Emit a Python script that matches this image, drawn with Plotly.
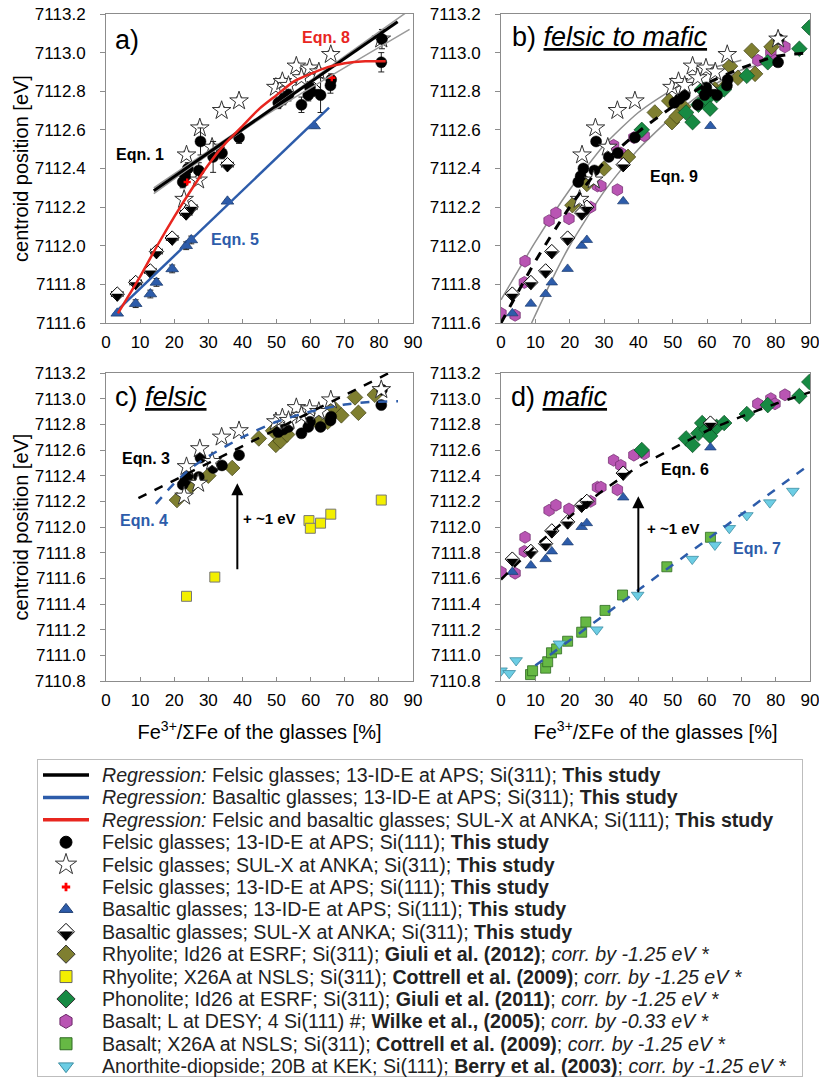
import plotly.graph_objects as go

FONT = "Liberation Sans, Arial, Helvetica, sans-serif"

# ---------------- data ----------------
# Felsic glasses; 13-ID-E at APS; Si(111) (black circles)
fel_aps_x = [22.5, 23.2, 24.0, 27.2, 27.7, 31.4, 34.0, 39.0, 50.5, 52.0, 53.5, 57.3, 59.3, 59.8, 62.9, 65.8, 66.0, 80.7, 80.9]
fel_aps_y = [7112.33, 7112.36, 7112.40, 7112.39, 7112.54, 7112.46, 7112.48, 7112.56, 7112.74, 7112.76, 7112.78,
             7112.73, 7112.78, 7112.82, 7112.78, 7112.83, 7112.86, 7112.95, 7113.07]
fel_aps_err = [0.03, 0.03, 0.03, 0.04, 0.07, 0.08, 0.03, 0.03, 0.03, 0.03, 0.03, 0.04, 0.03, 0.03, 0.09, 0.04, 0.03, 0.05, 0.05]

# Felsic glasses; SUL-X at ANKA; Si(311) (stars)
fel_anka_x = [22.9, 23.6, 27.0, 27.5, 31.1, 33.9, 39.0, 49.8, 51.7, 53.5, 55.8, 57.3, 59.7, 62.4, 65.9, 80.7]
fel_anka_y = [7112.24, 7112.47, 7112.34, 7112.61, 7112.51, 7112.70, 7112.75, 7112.82, 7112.85, 7112.83, 7112.93,
              7112.87, 7112.92, 7112.90, 7112.99, 7113.07]
fel_anka_errx = [1.0] * 16
fel_anka_erry = [0.02] * 16

# Felsic glasses; 13-ID-E at APS; Si(111) (red plus)
fel_red_x = [23.8, 66.2]
fel_red_y = [7112.33, 7112.87]

# Basaltic glasses; 13-ID-E at APS; Si(111) (blue triangles)
bas_aps_x = [3.3, 8.7, 13.0, 14.8, 19.4, 23.5, 25.0, 35.6, 61.0]
bas_aps_y = [7111.65, 7111.70, 7111.75, 7111.81, 7111.88, 7112.00, 7112.03, 7112.23, 7112.62]
bas_aps_err = [0.01, 0.02, 0.02, 0.02, 0.02, 0.02, 0.02, 0.01, 0.01]

# Basaltic glasses; SUL-X at ANKA; Si(311) (half-filled diamonds)
bas_anka_x = [3.3, 8.7, 13.0, 14.8, 19.4, 23.5, 25.0, 35.6, 61.0]
bas_anka_y = [7111.75, 7111.81, 7111.87, 7111.97, 7112.04, 7112.17, 7112.20, 7112.42, 7112.81]
bas_anka_errx = [1.7, 1.7, 1.7, 1.7, 1.7, 1.7, 1.7, 1.7, 1.7]

# Rhyolite; Id26 at ESRF; Giuli et al. (2012) (olive diamonds)
rhy_giuli_x = [20.8, 25.0, 30.0, 37.0, 44.8, 49.0, 49.8, 51.2, 53.1, 62.3, 65.0, 66.7, 69.0, 73.0, 74.0, 78.8]
rhy_giuli_y = [7112.21, 7112.32, 7112.40, 7112.46, 7112.69, 7112.75, 7112.64, 7112.67, 7112.72, 7112.81, 7112.82,
               7112.93, 7112.87, 7113.01, 7112.89, 7113.03]

# Rhyolite; X26A at NSLS; Cottrell et al. (2009) (yellow squares)
rhy_cott_x = [23.6, 31.9, 59.5, 59.9, 62.9, 65.9, 80.7]
rhy_cott_y = [7111.46, 7111.61, 7112.05, 7111.99, 7112.03, 7112.10, 7112.21]

# Phonolite; Id26 at ESRF; Giuli et al. (2011) (green diamonds)
pho_x = [41.0, 53.9, 55.8, 57.5, 58.6, 59.9, 60.9, 62.8, 65.0, 71.6, 77.7, 86.9, 89.8]
pho_y = [7112.60, 7112.69, 7112.64, 7112.73, 7112.81, 7112.76, 7112.71, 7112.78, 7112.81, 7112.88, 7112.95,
         7113.02, 7113.13]

# Basalt; L at DESY; Wilke et al. (2005) (magenta hexagons)
wil_x = [0.0, 4.1, 6.8, 7.0, 14.0, 16.0, 19.8, 26.1, 28.1, 29.1, 32.8, 34.9, 33.9, 38.7, 41.7, 74.8, 78.6, 79.8, 82.7]
wil_y = [7111.65, 7111.64, 7111.81, 7111.92, 7112.13, 7112.17, 7112.14, 7112.20, 7112.31, 7112.31, 7112.52, 7112.48,
         7112.29, 7112.56, 7112.57, 7112.96, 7113.00, 7112.96, 7113.03]

# Basalt; X26A at NSLS; Cottrell et al. (2009) (green squares)
bas_cott_x = [8.6, 9.2, 13.0, 13.6, 14.7, 16.2, 19.4, 23.5, 24.7, 30.3, 35.4, 48.3, 61.0]
bas_cott_y = [7110.85, 7110.88, 7110.90, 7110.95, 7111.02, 7111.05, 7111.11, 7111.18, 7111.26, 7111.35, 7111.47,
              7111.69, 7111.92]

# Anorthite-diopside; 20B at KEK; Berry et al. (2003) (cyan down-triangles)
berry_x = [0.0, 2.4, 4.4, 17.0, 27.9, 39.8, 55.7, 62.3, 66.5, 71.6, 78.3, 85.0]
berry_y = [7110.88, 7110.86, 7110.96, 7111.09, 7111.20, 7111.47, 7111.75, 7111.86, 7111.99, 7112.09, 7112.19, 7112.28]

# Regression / fit curves
eqn1_x = [14.0, 85.5]
eqn1_y = [7112.285, 7113.16]
eqn1_up_x = [14.0, 45.0, 89.0]
eqn1_up_y = [7112.30, 7112.67, 7113.22]
eqn1_lo_x = [14.0, 45.0, 89.0]
eqn1_lo_y = [7112.27, 7112.655, 7113.12]
eqn5_x = [2.1, 65.4]
eqn5_y = [7111.645, 7112.715]
eqn8_x = [3.5, 10.0, 15.0, 20.0, 25.0, 30.0, 35.0, 40.0, 45.0, 50.0, 55.0, 60.0, 65.0, 70.0, 76.0, 82.0]
eqn8_y = [7111.65, 7111.84, 7112.00, 7112.15, 7112.29, 7112.42, 7112.53, 7112.62, 7112.71, 7112.78, 7112.85,
          7112.89, 7112.925, 7112.945, 7112.955, 7112.955]
eqn9_x = [0.0, 10.0, 20.0, 30.0, 40.0, 50.0, 60.0, 70.0, 80.0, 90.0]
eqn9_y = [7111.60, 7111.92, 7112.20, 7112.43, 7112.59, 7112.72, 7112.84, 7112.92, 7112.98, 7113.00]
eqn9_up_x = [0.0, 10.0, 20.0, 30.0, 40.0, 50.0, 60.0, 70.0]
eqn9_up_y = [7111.72, 7112.02, 7112.29, 7112.52, 7112.69, 7112.81, 7112.91, 7112.96]
eqn9_lo_x = [8.9, 15.0, 20.0, 30.0, 40.0, 50.0, 60.0, 70.0, 79.0]
eqn9_lo_y = [7111.60, 7111.83, 7112.00, 7112.28, 7112.50, 7112.67, 7112.81, 7112.91, 7112.95]
eqn3_x = [9.5, 84.1]
eqn3_y = [7112.225, 7113.215]
eqn4_x = [14.6, 20.0, 25.0, 30.0, 40.0, 50.0, 60.0, 70.0, 78.0, 85.6]
eqn4_y = [7112.18, 7112.34, 7112.46, 7112.55, 7112.70, 7112.82, 7112.90, 7112.955, 7112.975, 7112.98]
eqn6_x = [0.0, 10.0, 20.0, 30.0, 40.0, 50.0, 60.0, 70.0, 80.0, 90.0]
eqn6_y = [7111.59, 7111.85, 7112.08, 7112.29, 7112.47, 7112.61, 7112.75, 7112.86, 7112.96, 7113.05]
eqn7_x = [10.0, 90.0]
eqn7_y = [7110.92, 7112.49]

# Arrows ("+ ~1 eV") : x, y_from, y_to ; label x, y
arrow_c = (38.5, 7111.66, 7112.34)
arrow_d = (40.0, 7111.48, 7112.24)
label_c = (48.0, 7112.07)
label_d = (50.2, 7111.99)

# ---------------- styles ----------------
BLUE = "#2d5caa"
RED = "#e8261f"
OLIVE = "#7f7f30"
YELLOW = "#f3ef00"
PHON = "#178a43"
MAG = "#b955b3"
GSQ = "#66b844"
CYAN = "#6ccde4"
GRAY = "#8c8c8c"

fig = go.Figure()

PX_PER_UNIT = {"y": 193.1, "y2": 193.1, "y3": 128.3, "y4": 128.3, "y5": -22.4}


def pts(xs, ys, xa, ya, symbol, size, color, lcolor, lwidth=1.0, ex=None, ey=None):
    tr = dict(x=xs, y=ys, xaxis=xa, yaxis=ya, mode="markers", showlegend=False, hoverinfo="skip",
              marker=dict(symbol=symbol, size=size, color=color, line=dict(color=lcolor, width=lwidth)))
    if ex is not None:
        tr["error_x"] = dict(type="data", array=ex, color="#222", thickness=1, width=3)
    if ey is not None:
        tr["error_y"] = dict(type="data", array=ey, color="#222", thickness=1, width=3)
    fig.add_trace(go.Scatter(**tr))


def half_diamond(xs, ys, xa, ya, size, ex=None):
    pts(xs, ys, xa, ya, "diamond", size, "white", "black", 1.0, ex=ex)
    r = size / 2.0
    rt = 0.9 * r
    shift = (rt / 2.0) / PX_PER_UNIT[ya]
    pts(xs, [v - shift for v in ys], xa, ya, "triangle-down", 2 * rt, "black", "black", 0.5)


def line(xs, ys, xa, ya, color, width, dash="solid", shape="linear"):
    fig.add_trace(go.Scatter(x=xs, y=ys, xaxis=xa, yaxis=ya, mode="lines", showlegend=False, hoverinfo="skip",
                             line=dict(color=color, width=width, dash=dash, shape=shape, smoothing=0.6)))


# ---- panel a ----
half_diamond(bas_anka_x, bas_anka_y, "x", "y", 11, ex=bas_anka_errx)
pts(bas_aps_x, bas_aps_y, "x", "y", "triangle-up", 11, BLUE, "#1d3c70", 0.8, ey=bas_aps_err)
pts(fel_anka_x, fel_anka_y, "x", "y", "star", 14, "white", "#333", 1.0, ex=fel_anka_errx, ey=fel_anka_erry)
pts(fel_aps_x, fel_aps_y, "x", "y", "circle", 11, "black", "black", 0.5, ey=fel_aps_err)
pts(fel_red_x, fel_red_y, "x", "y", "cross", 6, "red", "red", 0)
line(eqn1_up_x, eqn1_up_y, "x", "y", "#9a9a9a", 1.5, shape="spline")
line(eqn1_lo_x, eqn1_lo_y, "x", "y", "#9a9a9a", 1.5, shape="spline")
line(eqn1_x, eqn1_y, "x", "y", "black", 3)
line(eqn5_x, eqn5_y, "x", "y", BLUE, 2.5)
line(eqn8_x, eqn8_y, "x", "y", RED, 2.5, shape="spline")

# ---- panel b ----
line(eqn9_up_x, eqn9_up_y, "x2", "y2", "#8f8f8f", 1.5, shape="spline")
line(eqn9_lo_x, eqn9_lo_y, "x2", "y2", "#8f8f8f", 1.5, shape="spline")
pts(wil_x, wil_y, "x2", "y2", "hexagon", 12, MAG, "#6d2a6a", 0.7)
pts(rhy_giuli_x, rhy_giuli_y, "x2", "y2", "diamond", 12, OLIVE, "#3f3f14", 0.7)
pts(pho_x, pho_y, "x2", "y2", "diamond", 12, PHON, "#0c4a22", 0.7)
pts(bas_aps_x, bas_aps_y, "x2", "y2", "triangle-up", 10, BLUE, "#1d3c70", 0.7)
half_diamond(bas_anka_x, bas_anka_y, "x2", "y2", 11)
pts(fel_aps_x, fel_aps_y, "x2", "y2", "circle", 11, "black", "black", 0.5)
pts(fel_anka_x, fel_anka_y, "x2", "y2", "star", 14, "white", "#333", 1.0)
line(eqn9_x, eqn9_y, "x2", "y2", "black", 3, dash="dash", shape="spline")

# ---- panel c ----
pts(rhy_giuli_x, rhy_giuli_y, "x3", "y3", "diamond", 12, OLIVE, "#3f3f14", 0.7)
pts(fel_aps_x, fel_aps_y, "x3", "y3", "circle", 11, "black", "black", 0.5)
pts(fel_anka_x, fel_anka_y, "x3", "y3", "star", 14, "white", "#333", 1.0)
pts(rhy_cott_x, rhy_cott_y, "x3", "y3", "square", 10, YELLOW, "#777", 1.0)
line(eqn3_x, eqn3_y, "x3", "y3", "black", 2.5, dash="dash")
line(eqn4_x, eqn4_y, "x3", "y3", BLUE, 2.5, dash="dash", shape="spline")

# ---- panel d ----
pts(wil_x, wil_y, "x4", "y4", "hexagon", 12, MAG, "#6d2a6a", 0.7)
pts(pho_x, pho_y, "x4", "y4", "diamond", 12, PHON, "#0c4a22", 0.7)
pts(bas_aps_x, bas_aps_y, "x4", "y4", "triangle-up", 10, BLUE, "#1d3c70", 0.7)
half_diamond(bas_anka_x, bas_anka_y, "x4", "y4", 11)
pts(bas_cott_x, bas_cott_y, "x4", "y4", "square", 10, GSQ, "#2f6b22", 0.8)
pts(berry_x, berry_y, "x4", "y4", "triangle-down", 11, CYAN, "#3d8ea3", 0.8)
line(eqn6_x, eqn6_y, "x4", "y4", "black", 2.5, dash="dash", shape="spline")
line(eqn7_x, eqn7_y, "x4", "y4", BLUE, 2.5, dash="dash")

# ---- legend (drawn in its own axes) ----
legend_entries = [
    ("line", "black", "<i>Regression:</i> Felsic glasses; 13-ID-E at APS; Si(311); <b>This study</b>"),
    ("line", BLUE, "<i>Regression:</i> Basaltic glasses; 13-ID-E at APS; Si(311); <b>This study</b>"),
    ("line", RED, "<i>Regression:</i> Felsic and basaltic glasses; SUL-X at ANKA; Si(111); <b>This study</b>"),
    ("circle", "black", "Felsic glasses; 13-ID-E at APS; Si(111); <b>This study</b>"),
    ("star", "white", "Felsic glasses; SUL-X at ANKA; Si(311); <b>This study</b>"),
    ("cross", "red", "Felsic glasses; 13-ID-E at APS; Si(111); <b>This study</b>"),
    ("triangle-up", BLUE, "Basaltic glasses; 13-ID-E at APS; Si(111); <b>This study</b>"),
    ("half", "white", "Basaltic glasses; SUL-X at ANKA; Si(311); <b>This study</b>"),
    ("diamond", OLIVE, "Rhyolite; Id26 at ESRF; Si(311); <b>Giuli et al. (2012)</b>; <i>corr. by -1.25 eV *</i>"),
    ("square", YELLOW, "Rhyolite; X26A at NSLS; Si(311); <b>Cottrell et al. (2009)</b>; <i>corr. by -1.25 eV *</i>"),
    ("diamond", PHON, "Phonolite; Id26 at ESRF; Si(311); <b>Giuli et al. (2011)</b>; <i>corr. by -1.25 eV *</i>"),
    ("hexagon", MAG, "Basalt; L at DESY; 4 Si(111) #; <b>Wilke et al., (2005)</b>; <i>corr. by -0.33 eV *</i>"),
    ("square", GSQ, "Basalt; X26A at NSLS; Si(311); <b>Cottrell et al. (2009)</b>; <i>corr. by -1.25 eV *</i>"),
    ("triangle-down", CYAN, "Anorthite-diopside; 20B at KEK; Si(111); <b>Berry et al. (2003)</b>; <i>corr. by -1.25 eV *</i>"),
]
LEG_SIZES = {"circle": 12, "star": 16, "cross": 7, "triangle-up": 12, "diamond": 14, "square": 12,
             "hexagon": 14, "triangle-down": 13}
LEG_OUT = {"circle": "black", "star": "#333", "cross": "red", "triangle-up": "#1d3c70", "square": "#666",
           "hexagon": "#6d2a6a", "triangle-down": "#3d8ea3", "diamond": "#333"}
annotations = []
for i, (kind, col, txt) in enumerate(legend_entries):
    if kind == "line":
        line([5, 51], [i, i], "x5", "y5", col, 3.5)
    elif kind == "half":
        half_diamond([28], [i], "x5", "y5", 13)
    else:
        oc = LEG_OUT.get(kind, "#333")
        if kind == "square" and col == GSQ:
            oc = "#2f6b22"
        pts([28], [i], "x5", "y5", kind, LEG_SIZES[kind], col, oc, 1.0 if kind != "cross" else 0)
    annotations.append(dict(x=62, y=i, xref="x5", yref="y5", text=txt, showarrow=False, xanchor="left",
                            yanchor="middle", font=dict(size=19.6, color="#222", family=FONT)))


# ---- panel texts ----
def eqn(text, x, y, xa, ya, color):
    annotations.append(dict(x=x, y=y, xref=xa, yref=ya, text="<b>" + text + "</b>", showarrow=False,
                            font=dict(size=16, color=color, family=FONT)))


eqn("Eqn. 1", 10.0, 7112.47, "x", "y", "black")
eqn("Eqn. 8", 64.6, 7113.08, "x", "y", RED)
eqn("Eqn. 5", 37.8, 7112.03, "x", "y", BLUE)
eqn("Eqn. 9", 50.5, 7112.36, "x2", "y2", "black")
eqn("Eqn. 3", 11.7, 7112.53, "x3", "y3", "black")
eqn("Eqn. 4", 11.1, 7112.05, "x3", "y3", BLUE)
eqn("Eqn. 6", 53.6, 7112.45, "x4", "y4", "black")
eqn("Eqn. 7", 74.5, 7111.83, "x4", "y4", BLUE)

for (ax, ay, arr, lab) in [("x3", "y3", arrow_c, label_c), ("x4", "y4", arrow_d, label_d)]:
    annotations.append(dict(x=arr[0], y=arr[2], ax=arr[0], ay=arr[1], xref=ax, yref=ay, axref=ax, ayref=ay,
                            showarrow=True, arrowhead=2, arrowsize=1.2, arrowwidth=2, arrowcolor="black", text=""))
    annotations.append(dict(x=lab[0], y=lab[1], xref=ax, yref=ay, text="<b>+ ~1 eV</b>", showarrow=False,
                            font=dict(size=15, color="black", family=FONT)))

panel_labels = [
    ("a)", "x", "y", 0.023, 0.916),
    ("b) <i><u>felsic to mafic</u></i>", "x2", "y2", 0.029, 0.926),
    ("c) <i><u>felsic</u></i>", "x3", "y3", 0.023, 0.922),
    ("d) <i><u>mafic</u></i>", "x4", "y4", 0.026, 0.922),
]
for t, xa, ya, px, py in panel_labels:
    annotations.append(dict(x=px, y=py, xref=xa + " domain", yref=ya + " domain", text=t, showarrow=False,
                            xanchor="left", yanchor="middle", font=dict(size=27, color="black", family=FONT)))

# ---- axes ----
W, H = 819, 1078


def xd(a, b):
    return [a / W, b / W]


def yd(top, bot):
    return [1 - bot / H, 1 - top / H]


common = dict(showline=True, linecolor=GRAY, linewidth=1, mirror=True, showgrid=False, zeroline=False,
              automargin=False, tickfont=dict(size=17, color="black", family=FONT), tickcolor=GRAY)
xcommon = dict(common, range=[0, 90], tick0=0, dtick=10, ticks="inside", ticklen=4, ticklabelstandoff=4,
               ticklabeloverflow="allow")
ycommon = dict(common, ticks="outside", ticklen=5, tickformat=".1f", ticklabelstandoff=11)
ytitle = dict(text="centroid position [eV]", font=dict(size=20, color="black", family=FONT), standoff=0)
xtitle = dict(text="Fe<sup>3+</sup>/ΣFe of the glasses [%]", font=dict(size=20, color="black", family=FONT),
              standoff=15)

layout = dict(
    width=W, height=H, margin=dict(l=0, r=0, t=0, b=0, autoexpand=False), paper_bgcolor="white",
    plot_bgcolor="white", font=dict(family=FONT, color="black"), showlegend=False, annotations=annotations,
    xaxis=dict(xcommon, domain=xd(106, 413), anchor="y"),
    yaxis=dict(ycommon, domain=yd(14, 323), anchor="x", range=[7111.6, 7113.2], dtick=0.2, tick0=7111.6, title=ytitle),
    xaxis2=dict(xcommon, domain=xd(501, 810), anchor="y2"),
    yaxis2=dict(ycommon, domain=yd(14, 323), anchor="x2", range=[7111.6, 7113.2], dtick=0.2, tick0=7111.6),
    xaxis3=dict(xcommon, domain=xd(106, 413), anchor="y3", title=xtitle),
    yaxis3=dict(ycommon, domain=yd(373, 681), anchor="x3", range=[7110.8, 7113.2], dtick=0.2, tick0=7110.8, title=ytitle),
    xaxis4=dict(xcommon, domain=xd(501, 810), anchor="y4", title=xtitle),
    yaxis4=dict(ycommon, domain=yd(373, 681), anchor="x4", range=[7110.8, 7113.2], dtick=0.2, tick0=7110.8),
    xaxis5=dict(domain=xd(38, 802), anchor="y5", range=[0, 764], showline=True, mirror=True, linecolor="#bdbdbd",
                showgrid=False, zeroline=False, showticklabels=False, ticks="", automargin=False),
    yaxis5=dict(domain=yd(760, 1076), anchor="x5", range=[13.44, -0.67], showline=True, mirror=True,
                linecolor="#bdbdbd", showgrid=False, zeroline=False, showticklabels=False, ticks="", automargin=False),
)
fig.update_layout(**layout)
fig.write_html("out.html", config={"displayModeBar": False},
               post_script="document.body.style.margin='0px';document.body.style.overflow='hidden';")
